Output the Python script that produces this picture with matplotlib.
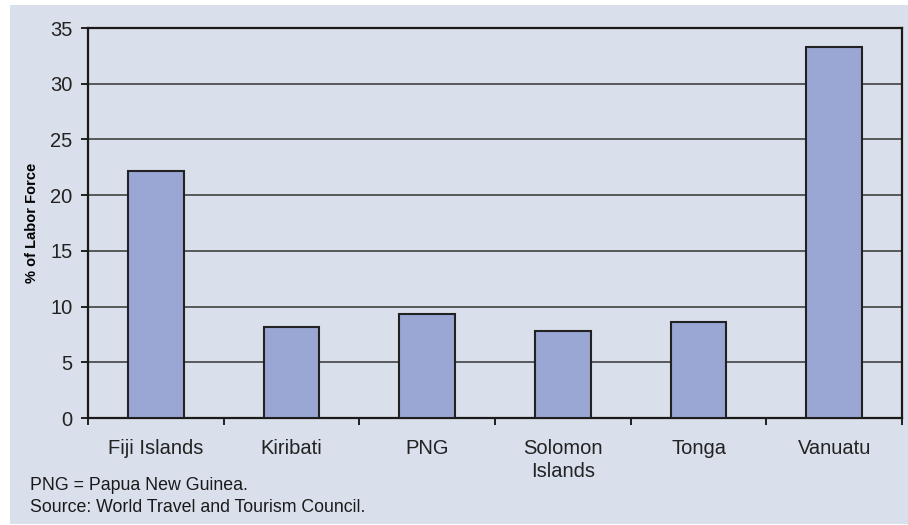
import matplotlib.pyplot as plt
from matplotlib.patches import Rectangle
import numpy as np

plt.rcParams['font.family'] = ['Liberation Sans', 'DejaVu Sans']

countries = ['Fiji Islands', 'Kiribati', 'PNG', 'Solomon\nIslands', 'Tonga', 'Vanuatu']
labor_share = [22.2, 8.2, 9.3, 7.8, 8.6, 33.3]
y_ticks = [0, 5, 10, 15, 20, 25, 30, 35]

bg = '#D9DFEB'
bar_color = '#9AA6D4'

fig = plt.figure(figsize=(9.08, 5.25), dpi=100, facecolor='white')
# light panel behind everything (white strip at left/top like the original)
fig.patches.append(Rectangle((10 / 908, 1 / 525), 1 - 10 / 908, 1 - 6 / 525,
                             transform=fig.transFigure, facecolor=bg,
                             edgecolor='none', zorder=-10))

ax = fig.add_axes([88 / 908, 1 - 418 / 525, (902 - 88) / 908, (418 - 28) / 525])
ax.set_facecolor(bg)

x = np.arange(len(countries))
ax.bar(x, labor_share, width=0.41, color=bar_color, edgecolor='#222222',
       linewidth=1.5, zorder=3)

ax.set_xlim(-0.5, len(countries) - 0.5)
ax.set_ylim(0, 35)
ax.set_yticks(y_ticks)
ax.yaxis.grid(True, color='#333333', linewidth=1.1)
ax.set_axisbelow(True)

ax.set_xticks(x)
ax.set_xticklabels(countries, fontsize=14.5, color='#222222', linespacing=1.3)
ax.set_xticks(np.arange(len(countries) + 1) - 0.5, minor=True)
ax.tick_params(axis='x', which='major', length=0, pad=15)
ax.tick_params(axis='x', which='minor', length=5, width=1.2, direction='out')
ax.tick_params(axis='y', length=5, width=1.2, direction='out', labelsize=14.5,
               labelcolor='#222222', pad=6)

for s in ax.spines.values():
    s.set_color('#1a1a1a')
    s.set_linewidth(1.6)

ax.set_ylabel('% of Labor Force', fontsize=10.5, fontweight='bold', labelpad=8)

fig.text(30 / 908, 1 - 485 / 525, 'PNG = Papua New Guinea.', fontsize=12.8,
         va='center', color='#1a1a1a')
fig.text(30 / 908, 1 - 507 / 525, 'Source: World Travel and Tourism Council.',
         fontsize=12.8, va='center', color='#1a1a1a')

fig.savefig('out.png', dpi=100, facecolor='white')
